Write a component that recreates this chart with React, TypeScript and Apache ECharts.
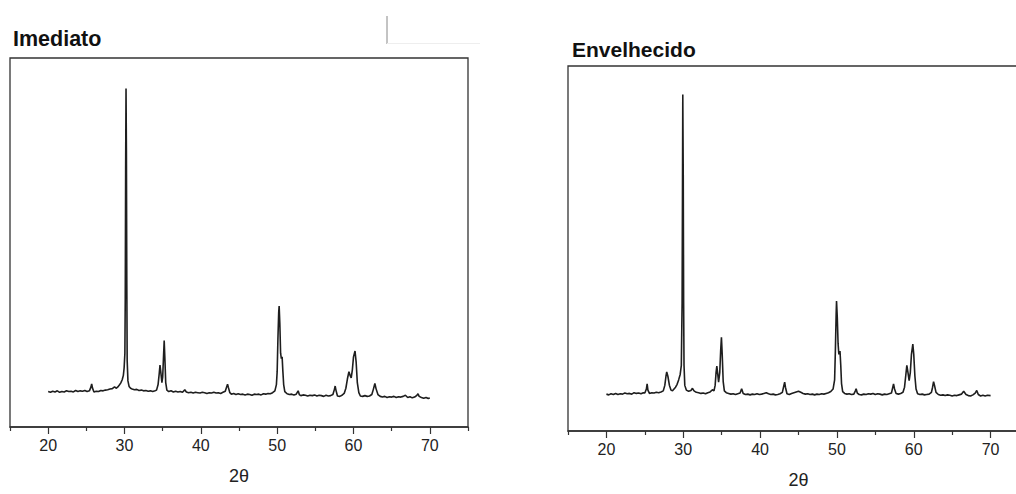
import React, { useEffect, useRef } from "react";
import * as echarts from "echarts";

// 2θ (degrees) and relative intensity (0–100)
const imediatoTheta = [
  20.0, 20.3, 20.6, 20.9, 21.2, 21.5, 21.8, 22.1, 22.4, 22.7, 23.0, 23.3, 23.6, 23.9, 24.2, 24.5, 24.8, 25.1, 25.4, 25.6,
  25.7, 25.8, 26.0, 26.3, 26.6, 26.9, 27.2, 27.5, 27.8, 28.1, 28.4, 28.7, 28.9, 29.1, 29.3, 29.5, 29.7, 29.85, 29.95, 30.05,
  30.1, 30.15, 30.2, 30.25, 30.3, 30.35, 30.45, 30.6, 30.8, 31.0, 31.3, 31.6, 31.9, 32.2, 32.5, 32.8, 33.1, 33.4, 33.7, 34.0,
  34.2, 34.4, 34.55, 34.65, 34.75, 34.9, 35.0, 35.1, 35.2, 35.3, 35.4, 35.55, 35.8, 36.1, 36.4, 36.7, 37.0, 37.3, 37.6, 37.9,
  38.1, 38.4, 38.7, 39.0, 39.3, 39.6, 39.9, 40.2, 40.5, 40.8, 41.1, 41.4, 41.7, 42.0, 42.3, 42.6, 42.9, 43.2, 43.4, 43.5,
  43.6, 43.8, 44.0, 44.3, 44.6, 44.9, 45.2, 45.5, 45.8, 46.1, 46.4, 46.7, 47.0, 47.3, 47.6, 47.9, 48.2, 48.5, 48.8, 49.1,
  49.4, 49.7, 49.9, 50.0, 50.1, 50.2, 50.26, 50.35, 50.45, 50.55, 50.65, 50.75, 50.85, 51.0, 51.3, 51.6, 51.9, 52.2, 52.5, 52.75,
  52.9, 53.1, 53.4, 53.7, 54.0, 54.3, 54.6, 54.9, 55.2, 55.5, 55.8, 56.1, 56.4, 56.7, 57.0, 57.3, 57.5, 57.6, 57.7, 57.9,
  58.2, 58.5, 58.8, 59.0, 59.2, 59.4, 59.55, 59.7, 59.85, 60.0, 60.2, 60.35, 60.5, 60.7, 60.9, 61.2, 61.5, 61.8, 62.1, 62.4,
  62.6, 62.8, 62.95, 63.2, 63.5, 63.8, 64.1, 64.4, 64.7, 65.0, 65.3, 65.6, 65.9, 66.2, 66.5, 66.8, 67.1, 67.4, 67.7, 68.0,
  68.3, 68.45, 68.6, 68.9, 69.2, 69.5, 69.8, 70.0,
];
const imediatoIntensity = [
  9.6, 9.4, 9.7, 9.5, 9.8, 9.4, 9.6, 9.5, 9.8, 9.6, 9.7, 9.5, 9.9, 9.6, 9.8, 9.7, 9.9, 9.6, 9.8, 10.8,
  11.7, 10.6, 9.5, 9.7, 9.6, 9.9, 9.8, 10.0, 10.1, 10.3, 10.4, 10.9, 10.5, 10.8, 11.3, 11.9, 12.8, 14.0, 16.0, 20.0,
  35.0, 70.0, 91.7, 75.0, 40.0, 18.0, 12.5, 11.0, 10.5, 10.3, 10.1, 10.2, 9.9, 10.0, 9.8, 9.9, 9.7, 9.8, 9.6, 9.8,
  10.0, 11.5, 14.5, 16.8, 15.0, 12.0, 13.5, 18.5, 23.4, 18.0, 12.0, 10.0, 9.6, 9.8, 9.5, 9.7, 9.5, 9.6, 9.4, 10.1,
  9.5, 9.3, 9.4, 9.2, 9.4, 9.3, 9.2, 9.4, 9.3, 9.1, 9.3, 9.2, 9.4, 9.2, 9.3, 9.1, 9.4, 9.7, 11.0, 11.6,
  10.8, 9.3, 8.9, 9.1, 8.8, 9.0, 8.8, 8.9, 8.7, 8.9, 8.8, 8.6, 8.9, 8.8, 8.9, 8.7, 9.0, 8.9, 9.1, 9.0,
  9.3, 9.8, 11.5, 15.0, 24.0, 31.0, 32.8, 28.0, 20.0, 18.5, 19.0, 15.0, 11.5, 9.6, 9.0, 8.8, 8.9, 8.7, 8.9, 9.8,
  8.8, 8.5, 8.7, 8.6, 8.4, 8.6, 8.5, 8.7, 8.4, 8.6, 8.5, 8.3, 8.6, 8.4, 8.5, 8.8, 10.2, 11.1, 10.0, 8.4,
  8.3, 8.6, 9.2, 10.5, 13.0, 15.0, 14.0, 13.3, 15.5, 19.0, 20.6, 17.5, 12.0, 9.3, 8.4, 8.3, 8.5, 8.3, 8.4, 8.8,
  10.2, 11.8, 10.4, 8.8, 8.3, 8.1, 8.3, 8.0, 8.2, 8.1, 8.3, 8.0, 8.2, 8.1, 8.3, 8.6, 8.0, 8.2, 7.9, 8.1,
  8.6, 9.0, 8.3, 8.0, 7.8, 8.0, 7.7, 7.9,
];

const envelhecidoTheta = [
  20.0, 20.3, 20.6, 20.9, 21.2, 21.5, 21.8, 22.1, 22.4, 22.7, 23.0, 23.3, 23.6, 23.9, 24.2, 24.5, 24.8, 25.0, 25.2, 25.3,
  25.4, 25.6, 25.9, 26.2, 26.5, 26.8, 27.1, 27.4, 27.6, 27.75, 27.85, 28.0, 28.2, 28.4, 28.6, 28.8, 29.0, 29.2, 29.4, 29.6,
  29.75, 29.85, 29.9, 29.94, 30.0, 30.05, 30.1, 30.2, 30.4, 30.7, 31.0, 31.2, 31.4, 31.7, 32.0, 32.3, 32.6, 32.9, 33.2, 33.5,
  33.8, 34.0, 34.15, 34.27, 34.37, 34.47, 34.6, 34.75, 34.87, 34.97, 35.07, 35.2, 35.35, 35.6, 35.9, 36.2, 36.5, 36.8, 37.1, 37.4,
  37.6, 37.8, 38.1, 38.4, 38.7, 39.0, 39.3, 39.6, 39.9, 40.2, 40.5, 40.8, 41.1, 41.4, 41.7, 42.0, 42.3, 42.6, 42.9, 43.1,
  43.2, 43.3, 43.5, 43.8, 44.1, 44.4, 44.7, 45.0, 45.3, 45.6, 45.9, 46.2, 46.5, 46.8, 47.1, 47.4, 47.7, 48.0, 48.3, 48.6,
  48.9, 49.2, 49.5, 49.7, 49.8, 49.9, 49.95, 50.05, 50.15, 50.25, 50.4, 50.5, 50.6, 50.75, 51.0, 51.3, 51.6, 51.9, 52.2, 52.4,
  52.5, 52.65, 52.9, 53.2, 53.5, 53.8, 54.1, 54.4, 54.7, 55.0, 55.3, 55.6, 55.9, 56.2, 56.5, 56.8, 57.1, 57.25, 57.37, 57.5,
  57.7, 58.0, 58.3, 58.6, 58.8, 58.95, 59.1, 59.25, 59.4, 59.55, 59.7, 59.88, 60.0, 60.15, 60.3, 60.5, 60.8, 61.1, 61.4, 61.7,
  62.0, 62.3, 62.45, 62.58, 62.7, 62.9, 63.2, 63.5, 63.8, 64.1, 64.4, 64.7, 65.0, 65.3, 65.6, 65.9, 66.2, 66.5, 66.8, 67.1,
  67.4, 67.7, 68.0, 68.2, 68.4, 68.7, 69.0, 69.3, 69.6, 70.0,
];
const envelhecidoIntensity = [
  10.1, 9.9, 10.2, 10.0, 10.3, 10.0, 10.2, 10.1, 10.4, 10.2, 10.3, 10.1, 10.5, 10.3, 10.4, 10.2, 10.5, 10.4, 11.5, 12.9,
  11.2, 10.3, 10.5, 10.4, 10.6, 10.5, 10.7, 11.0, 12.5, 15.0, 16.2, 15.0, 12.5, 11.2, 11.0, 11.5, 12.0, 12.8, 14.0, 15.5,
  18.0, 35.0, 65.0, 92.2, 70.0, 35.0, 18.0, 12.5, 11.2, 10.9, 11.1, 11.7, 11.0, 10.6, 10.5, 10.3, 10.4, 10.2, 10.5, 10.7,
  11.3, 11.0, 12.5, 16.0, 17.8, 16.0, 13.4, 16.0, 22.0, 25.7, 21.0, 13.5, 11.0, 10.5, 10.3, 10.1, 10.2, 10.0, 10.2, 10.4,
  11.6, 10.3, 10.0, 10.1, 9.9, 10.1, 10.0, 10.2, 10.0, 10.1, 10.3, 10.5, 10.2, 10.0, 10.1, 9.9, 10.0, 10.2, 10.6, 12.5,
  13.4, 12.0, 10.2, 10.0, 10.3, 10.5, 10.7, 10.9, 10.6, 10.3, 10.1, 10.2, 10.0, 10.1, 9.9, 10.1, 10.0, 10.2, 10.1, 10.3,
  10.5, 10.8, 11.5, 14.0, 22.0, 32.0, 35.6, 31.0, 24.0, 21.0, 21.9, 18.0, 13.0, 10.8, 10.3, 10.1, 10.2, 10.0, 10.1, 11.0,
  11.6, 10.4, 10.0, 9.9, 10.1, 10.0, 10.2, 10.1, 10.3, 10.0, 10.2, 10.1, 9.9, 10.1, 10.0, 10.2, 10.4, 11.8, 12.9, 11.5,
  10.3, 10.1, 10.3, 10.6, 12.0, 15.0, 18.0, 16.0, 13.8, 16.0, 21.0, 23.8, 21.0, 15.0, 11.5, 10.2, 10.0, 10.1, 9.9, 10.0,
  10.1, 10.6, 12.0, 13.5, 12.5, 10.6, 10.0, 9.8, 9.9, 9.7, 9.9, 9.8, 9.6, 9.8, 9.7, 9.9, 10.1, 10.9, 10.0, 9.7,
  9.6, 9.9, 10.4, 11.1, 10.0, 9.6, 9.8, 9.6, 9.8, 9.7,
];

const xTickLabels = [20, 30, 40, 50, 60, 70];
const xMinorTicks = [15, 25, 35, 45, 55, 65, 75];
const titles = ["Imediato", "Envelhecido"];
const axisName = "2θ";

const FONT = "'Liberation Sans', Arial, Helvetica, sans-serif";

function makeXAxis(gridIndex: number) {
  return {
    type: "value",
    gridIndex,
    position: "bottom",
    min: 15,
    max: 75,
    interval: 5,
    name: axisName,
    nameLocation: "middle",
    nameGap: 40,
    nameTextStyle: { fontSize: 18, color: "#222", fontFamily: FONT },
    axisLine: { show: true, lineStyle: { color: "#333", width: 1.5 } },
    axisTick: { show: true, length: 7, inside: false, customValues: xTickLabels, lineStyle: { color: "#333", width: 1.2 } },
    splitLine: { show: false },
    axisLabel: {
      margin: 10,
      fontSize: 16,
      color: "#222",
      fontFamily: FONT,
      customValues: xTickLabels,
      formatter: (v: number) => (xTickLabels.includes(v) ? String(v) : ""),
    },
  };
}

function makeMinorXAxis(gridIndex: number) {
  return {
    type: "value",
    gridIndex,
    position: "bottom",
    offset: 0,
    min: 15,
    max: 75,
    interval: 5,
    axisLine: { show: false },
    axisTick: { show: true, length: 4, inside: false, customValues: xMinorTicks, lineStyle: { color: "#333", width: 1.2 } },
    axisLabel: { show: false },
    splitLine: { show: false },
  };
}

function makeYAxis(gridIndex: number) {
  return {
    type: "value",
    gridIndex,
    min: 0,
    max: 100,
    show: false,
    splitLine: { show: false },
  };
}

export default function App() {
  const ref = useRef<HTMLDivElement>(null);
  useEffect(() => {
    if (!ref.current) return;
    const chart = echarts.init(ref.current, undefined, { renderer: "svg" });
    const left = imediatoTheta.map((x, i) => [x, imediatoIntensity[i]]);
    const right = envelhecidoTheta.map((x, i) => [x, envelhecidoIntensity[i]]);
    chart.setOption({
      animation: false,
      backgroundColor: "#ffffff",
      grid: [
        { left: 10, top: 58, width: 458, height: 369, show: true, borderColor: "#333", borderWidth: 1.3, backgroundColor: "transparent" },
        { left: 568, top: 66, width: 461, height: 372, show: true, borderColor: "#333", borderWidth: 1.3, backgroundColor: "transparent" },
      ],
      xAxis: [makeXAxis(0), makeXAxis(1), makeMinorXAxis(0), makeMinorXAxis(1)],
      yAxis: [makeYAxis(0), makeYAxis(1)],
      graphic: [
        {
          type: "text",
          x: 13,
          y: 39,
          style: { text: titles[0], font: `bold 21.5px ${FONT}`, fill: "#111", verticalAlign: "middle", textVerticalAlign: "middle" },
        },
        {
          type: "text",
          x: 572,
          y: 49,
          style: { text: titles[1], font: `bold 21px ${FONT}`, fill: "#111", verticalAlign: "middle", textVerticalAlign: "middle" },
        },
        { type: "line", shape: { x1: 387, y1: 16, x2: 387, y2: 44 }, style: { stroke: "#888", lineWidth: 1 } },
        { type: "line", shape: { x1: 387, y1: 43.5, x2: 480, y2: 43.5 }, style: { stroke: "#eeeeee", lineWidth: 1 } },
      ],
      series: [
        {
          type: "line",
          xAxisIndex: 0,
          yAxisIndex: 0,
          data: left,
          showSymbol: false,
          lineStyle: { color: "#1e1e1e", width: 1.6 },
        },
        {
          type: "line",
          xAxisIndex: 1,
          yAxisIndex: 1,
          data: right,
          showSymbol: false,
          lineStyle: { color: "#1e1e1e", width: 1.6 },
        },
      ],
    });
    return () => chart.dispose();
  }, []);
  return (
    <div style={{ position: "fixed", left: 0, top: 0, width: 1016, height: 494, overflow: "hidden", background: "#fff" }}>
      <div ref={ref} style={{ width: 1040, height: 494 }} />
    </div>
  );
}
